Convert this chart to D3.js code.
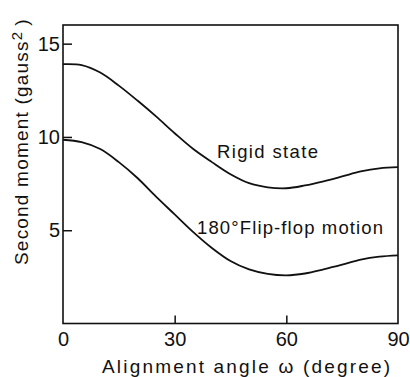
<!DOCTYPE html>
<html>
<head>
<meta charset="utf-8">
<script src="https://cdn.jsdelivr.net/npm/d3@7"></script>
<style>
  html, body { margin: 0; padding: 0; background: #fff; }
  svg { display: block; }
  text { font-family: "Liberation Sans", Arial, sans-serif; fill: #111; }
</style>
</head>
<body>
<svg id="chart" width="410" height="377"></svg>
<script>
// Alignment angle ω (degree)
const angles = [0, 5, 10, 15, 20, 25, 30, 35, 40, 45, 50, 55, 60, 65, 70, 75, 80, 85, 90];
// Second moment (gauss^2), rigid lattice
const rigidState = [13.9, 13.85, 13.45, 12.75, 11.95, 11.1, 10.2, 9.35, 8.65, 8.0, 7.52, 7.3, 7.25, 7.4, 7.62, 7.88, 8.15, 8.32, 8.38];
// Second moment (gauss^2), 180° flip-flop motion
const flipFlop = [9.85, 9.72, 9.35, 8.65, 7.8, 6.8, 5.85, 4.9, 4.05, 3.35, 2.9, 2.66, 2.58, 2.68, 2.9, 3.15, 3.42, 3.58, 3.65];
const xTicks = [0, 30, 60, 90];
const yTicks = [5, 10, 15];

const svg = d3.select("#chart");
const x = d3.scaleLinear().domain([0, 90]).range([63, 398]);
const y = d3.scaleLinear().domain([0, 16]).range([323.5, 25]);

// plot frame
svg.append("rect")
  .attr("x", x(0)).attr("y", y(16))
  .attr("width", x(90) - x(0)).attr("height", y(0) - y(16))
  .attr("fill", "none").attr("stroke", "#111").attr("stroke-width", 1.6);

// left axis: inward ticks
const gy = svg.append("g").attr("transform", `translate(${x(0)},0)`)
  .call(d3.axisLeft(y).tickValues(yTicks).tickSize(-9).tickPadding(3));
// bottom axis: inward ticks
const gx = svg.append("g").attr("transform", `translate(0,${y(0)})`)
  .call(d3.axisBottom(x).tickValues(xTicks).tickSize(-8).tickPadding(8));

[gx, gy].forEach(g => {
  g.select(".domain").remove();
  g.selectAll(".tick line").attr("stroke", "#111").attr("stroke-width", 1.5);
  g.selectAll(".tick text")
    .attr("font-family", "'Liberation Sans Narrow', 'Liberation Sans', Arial, sans-serif")
    .attr("font-size", 20).attr("fill", "#111");
});
gx.selectAll(".tick line").filter(d => d === 0 || d === 90).remove();

// curves
const line = d3.line()
  .x((d, i) => x(angles[i]))
  .y(d => y(d))
  .curve(d3.curveCatmullRom.alpha(0.5));

[rigidState, flipFlop].forEach(series => {
  svg.append("path")
    .datum(series)
    .attr("d", line)
    .attr("fill", "none")
    .attr("stroke", "#111")
    .attr("stroke-width", 1.8)
    .attr("stroke-linejoin", "round");
});

// curve labels
svg.append("text")
  .attr("x", 217).attr("y", 158)
  .attr("font-size", 18.5)
  .attr("textLength", 101).attr("lengthAdjust", "spacing")
  .text("Rigid state");

svg.append("text")
  .attr("x", 197).attr("y", 234)
  .attr("font-size", 18.5)
  .attr("textLength", 186).attr("lengthAdjust", "spacing")
  .text("180°Flip-flop motion");

// axis titles
svg.append("text")
  .attr("x", 102).attr("y", 373)
  .attr("font-size", 19)
  .attr("textLength", 288).attr("lengthAdjust", "spacing")
  .text("Alignment angle ω (degree)");

const yTitle = svg.append("text")
  .attr("transform", "translate(28,265) rotate(-90)")
  .attr("x", 0).attr("y", 0)
  .attr("font-size", 19)
  .attr("letter-spacing", 1.2);
yTitle.append("tspan").text("Second moment (gauss");
yTitle.append("tspan").attr("dy", -6).attr("font-size", 15).text("2");
yTitle.append("tspan").attr("dy", 6).attr("dx", 5).text(")");
</script>
</body>
</html>
